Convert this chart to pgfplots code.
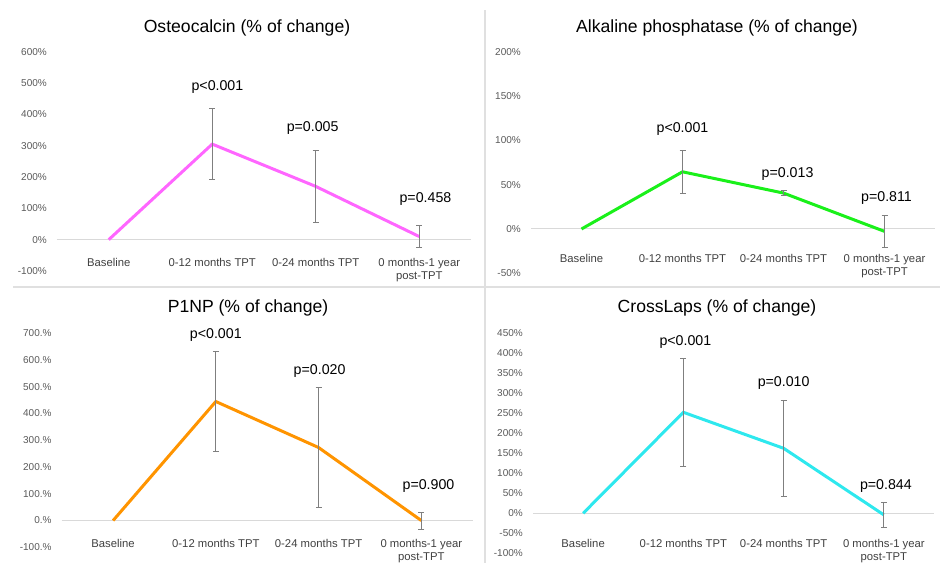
\documentclass[border=0pt]{standalone}
\usepackage{fontspec}
\setmainfont{Liberation Sans}
\usepackage{pgfplots}
\pgfplotsset{compat=1.18}
\definecolor{zeroline}{HTML}{D9D9D9}
\definecolor{sepline}{HTML}{E0E0E0}
\definecolor{labelgray}{HTML}{404040}
\definecolor{tickgray}{HTML}{595959}
\definecolor{errgray}{HTML}{7F7F7F}
\definecolor{cpink}{HTML}{FF66FF}
\definecolor{cgreen}{HTML}{1AF01A}
\definecolor{corange}{HTML}{FF9400}
\definecolor{ccyan}{HTML}{2EE8EE}
\tikzset{plab/.style={font=\fontsize{14.2}{16}\selectfont, text=black}}
\pgfplotsset{
  panel/.style={
    scale only axis, anchor=south west,
    xmin=-0.5, xmax=3.5, xtick={0,1,2,3},
    xticklabels={Baseline, 0-12 months TPT, 0-24 months TPT, {0 months-1 year\\post-TPT}},
    axis line style={draw=none},
    major tick length=0pt, tick style={draw=none},
    extra y ticks={0}, extra y tick labels={},
    extra y tick style={grid=major, major grid style={draw=zeroline, line width=1pt}},
    xticklabel style={font=\fontsize{11.3}{13}\selectfont, text=labelgray, align=center, anchor=north, inner sep=0pt},
    yticklabel style={font=\fontsize{10}{11}\selectfont, text=tickgray, anchor=east, inner sep=0pt, xshift=-10pt},
    /pgf/number format/assume math mode=true,
    clip=false,
  },
  mainline/.style={line width=3pt, mark=none},
  errs/.style={draw=none, mark=none, forget plot, error bars/.cd, y dir=both, y explicit,
    error bar style={draw=errgray, line width=0.9pt},
    error mark options={draw=errgray, rotate=90, mark size=3pt, line width=0.9pt}},
}
\begin{document}
\begin{tikzpicture}
\path[use as bounding box] (0pt,0pt) rectangle (940pt,563pt);
\draw[sepline, line width=2pt] (13pt,276pt) -- (940pt,276pt);
\draw[sepline, line width=2pt] (485pt,553pt) -- (485pt,0pt);
% titles
\node[font=\fontsize{17.6}{20}\selectfont] at (247pt,535pt) {Osteocalcin (\% of change)};
\node[font=\fontsize{17.6}{20}\selectfont] at (717pt,535pt) {Alkaline phosphatase (\% of change)};
\node[font=\fontsize{17.6}{20}\selectfont] at (248pt,255pt) {P1NP (\% of change)};
\node[font=\fontsize{17.6}{20}\selectfont] at (717pt,255pt) {CrossLaps (\% of change)};

% Panel 1
\begin{axis}[panel, at={(57pt,292pt)}, width=414pt, height=219.3pt,
  ymin=-100, ymax=600, ytick={-100,0,...,600},
  yticklabel={\pgfmathprintnumber{\tick}\%},
  xticklabel style={yshift=13pt}]
\addplot[mainline, cpink] coordinates {(0,0) (1,305) (2,170) (3,10)};
\addplot[errs] coordinates {(1,305) +- (0,114) (2,170) +- (0,114) (3,10) +- (0,36)};
\node[plab] at (axis cs:1.05,487) {p<0.001};
\node[plab] at (axis cs:1.97,357) {p=0.005};
\node[plab] at (axis cs:3.06,131) {p=0.458};
\end{axis}

% Panel 2
\begin{axis}[panel, at={(531pt,289.7pt)}, width=404pt, height=221.6pt,
  ymin=-50, ymax=200, ytick={-50,0,...,200},
  yticklabel={\pgfmathprintnumber{\tick}\%},
  xticklabel style={yshift=19pt}]
\addplot[mainline, cgreen] coordinates {(0,0) (1,64.5) (2,40.5) (3,-2.7)};
\addplot[errs] coordinates {(1,64.5) +- (0,24) (2,40.5) +- (0,3) (3,-2.7) +- (0,18)};
\node[plab] at (axis cs:1.0,112.8) {p<0.001};
\node[plab] at (axis cs:2.04,62.3) {p=0.013};
\node[plab] at (axis cs:3.02,35.2) {p=0.811};
\end{axis}

% Panel 3
\begin{axis}[panel, at={(61.7pt,15.7pt)}, width=411pt, height=214pt,
  ymin=-100, ymax=700, ytick={-100,0,...,700},
  yticklabel={\pgfmathprintnumber{\tick}.\%},
  xticklabel style={yshift=8pt}]
\addplot[mainline, corange] coordinates {(0,0) (1,445) (2,273) (3,0)};
\addplot[errs] coordinates {(1,445) +- (0,188) (2,273) +- (0,224) (3,0) +- (0,32)};
\node[plab] at (axis cs:1.0,694) {p<0.001};
\node[plab] at (axis cs:2.01,559) {p=0.020};
\node[plab] at (axis cs:3.07,130) {p=0.900};
\end{axis}

% Panel 4
\begin{axis}[panel, at={(533pt,9.7pt)}, width=401pt, height=220pt,
  ymin=-100, ymax=450, ytick={-100,-50,...,450},
  yticklabel={\pgfmathprintnumber{\tick}\%},
  xticklabel style={yshift=14pt}]
\addplot[mainline, ccyan] coordinates {(0,0) (1,252.5) (2,162.5) (3,-4)};
\addplot[errs] coordinates {(1,252.5) +- (0,134.5) (2,162.5) +- (0,120.6) (3,-4) +- (0,31)};
\node[plab] at (axis cs:1.02,428) {p<0.001};
\node[plab] at (axis cs:2.0,326) {p=0.010};
\node[plab] at (axis cs:3.02,68) {p=0.844};
\end{axis}
\end{tikzpicture}
\end{document}
